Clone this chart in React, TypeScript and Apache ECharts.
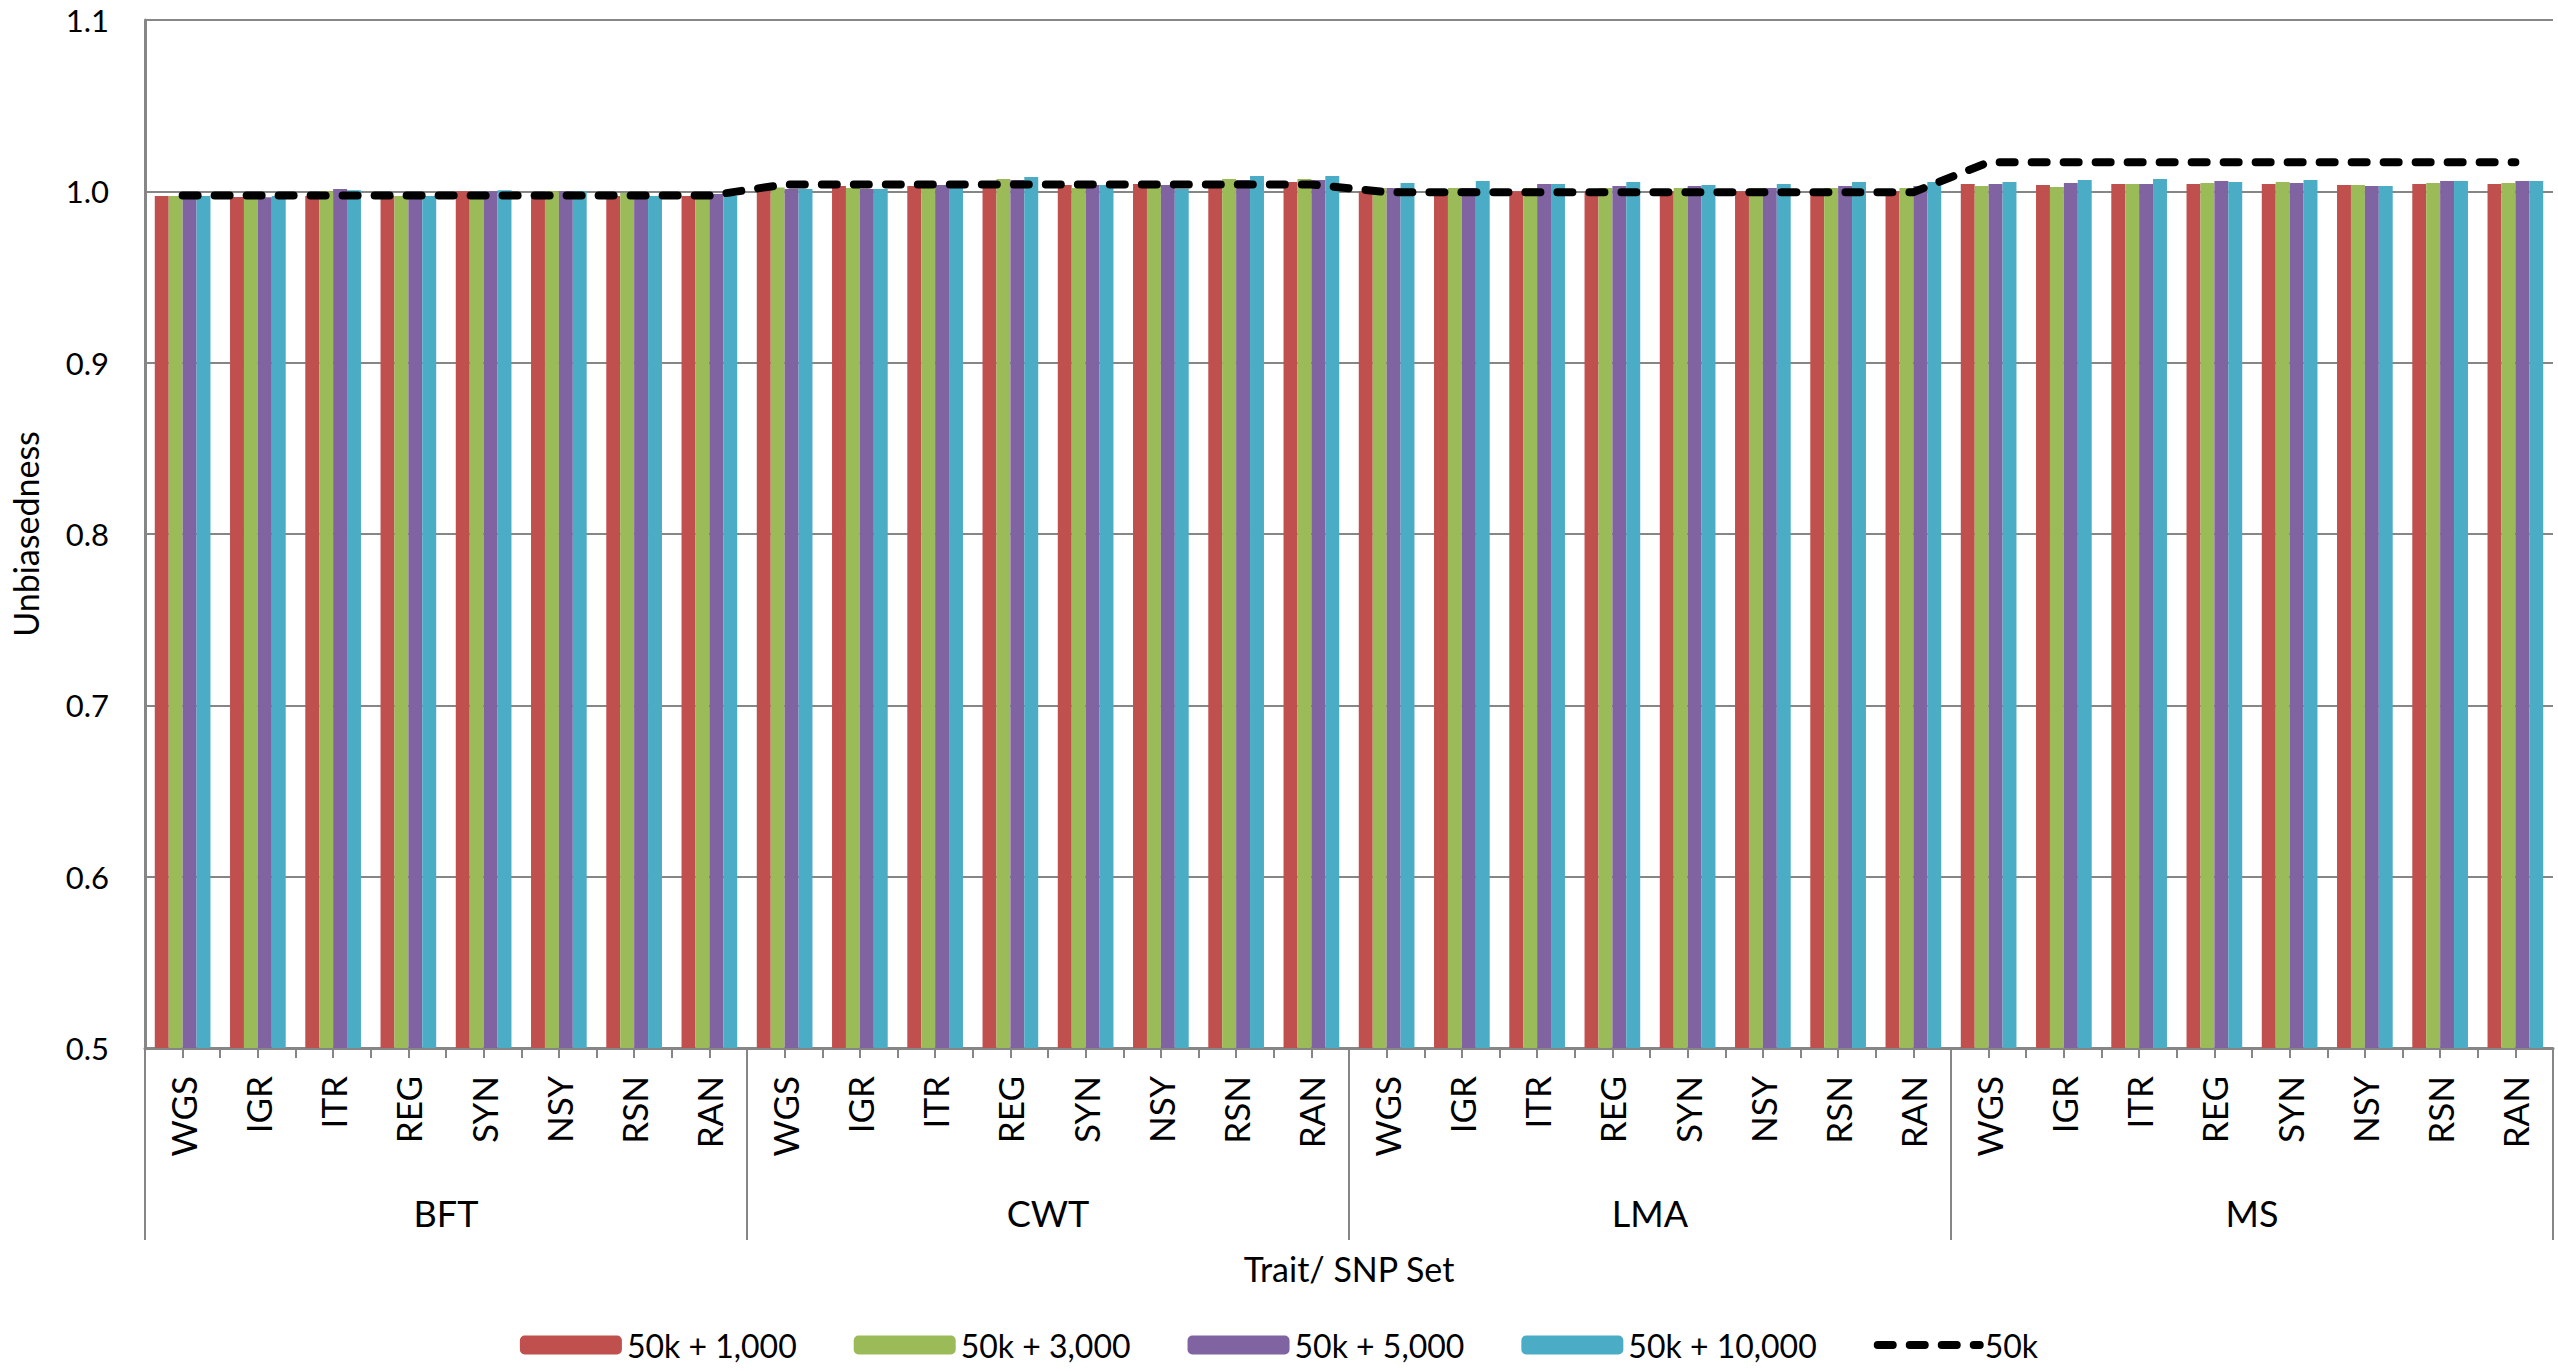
import React, { useEffect, useRef } from "react";
import * as echarts from "echarts";

const traits = ["BFT", "CWT", "LMA", "MS"];
const snpSets = ["WGS", "IGR", "ITR", "REG", "SYN", "NSY", "RSN", "RAN"];
const categories = traits.flatMap(() => snpSets);

const seriesNames = ["50k + 1,000", "50k + 3,000", "50k + 5,000", "50k + 10,000", "50k"];
const colors = ["#C0504D", "#9BBB59", "#8064A2", "#4BACC6"];

// order per trait: WGS, IGR, ITR, REG, SYN, NSY, RSN, RAN
const k1000 = [
  0.9973, 0.9967, 0.9973, 0.9973, 1.0, 0.9973, 0.9973, 0.9973,
  1.001, 1.0031, 1.0031, 1.002, 1.0037, 1.0043, 1.002, 1.0054,
  1.0, 1.0, 1.0, 1.0, 1.0, 1.0, 1.0, 1.0,
  1.0043, 1.0037, 1.0043, 1.0043, 1.0043, 1.0037, 1.0043, 1.0043,
];
const k3000 = [
  0.9973, 0.9972, 1.0, 0.9973, 0.9973, 1.0, 0.999, 0.9973,
  1.0023, 1.0019, 1.002, 1.0072, 1.002, 1.0037, 1.0072, 1.0072,
  1.0019, 1.0019, 1.0019, 1.0019, 1.0019, 1.0019, 1.0019, 1.0019,
  1.0031, 1.0025, 1.0043, 1.0048, 1.0054, 1.0037, 1.0048, 1.0048,
];
const k5000 = [
  0.9973, 0.9965, 1.0014, 0.9973, 1.0, 1.0, 0.9973, 0.9985,
  1.0014, 1.0014, 1.0037, 1.0066, 1.0037, 1.0037, 1.0066, 1.0066,
  1.0019, 1.0019, 1.0043, 1.0031, 1.0031, 1.0019, 1.0031, 1.0031,
  1.0043, 1.0048, 1.0043, 1.006, 1.0048, 1.0031, 1.006, 1.006,
];
const k10000 = [
  0.9973, 0.9973, 1.0006, 0.9973, 1.0006, 1.0, 0.9973, 0.9973,
  1.0014, 1.0014, 1.002, 1.0083, 1.0037, 1.0014, 1.0089, 1.0089,
  1.0048, 1.006, 1.0043, 1.0054, 1.0037, 1.0043, 1.0054, 1.0054,
  1.0054, 1.0066, 1.0072, 1.0054, 1.0066, 1.0031, 1.006, 1.006,
];
const base50k = [
  0.9975, 0.9975, 0.9975, 0.9975, 0.9975, 0.9975, 0.9975, 0.9975,
  1.004, 1.004, 1.004, 1.004, 1.004, 1.004, 1.004, 1.004,
  0.9995, 0.9995, 0.9995, 0.9995, 0.9995, 0.9995, 0.9995, 0.9995,
  1.017, 1.017, 1.017, 1.017, 1.017, 1.017, 1.017, 1.017,
];
const barData = [k1000, k3000, k5000, k10000];

const FONT = "Lato";
const GRAY = "#868686";
const dashStyle = { color: "#000", width: 8, type: [15, 17], cap: "round" };

export default function App() {
  const ref = useRef<HTMLDivElement>(null);
  useEffect(() => {
    document.body.style.margin = "0";
    document.body.style.overflow = "hidden";
    if (!ref.current) return;
    const chart = echarts.init(ref.current, undefined, { renderer: "svg" });
    const bars = barData.map((d, i) => ({
      name: seriesNames[i],
      type: "bar",
      xAxisIndex: 0,
      yAxisIndex: 0,
      data: d,
      barGap: "0%",
      barCategoryGap: "26%",
      itemStyle: { color: colors[i] },
    }));
    chart.setOption({
      animation: false,
      backgroundColor: "#ffffff",
      textStyle: { fontFamily: FONT },
      grid: { left: 138, right: 5, top: 20, bottom: 323, containLabel: false },
      legend: {
        data: [
          ...seriesNames.slice(0, 4),
          { name: seriesNames[4], itemStyle: { opacity: 0 }, lineStyle: dashStyle },
        ],
        left: "center",
        top: 1324,
        itemWidth: 102,
        itemHeight: 19,
        itemGap: 57,
        textStyle: { fontFamily: FONT, fontSize: 32, color: "#000" },
      },
      xAxis: [
        {
          type: "category",
          data: categories,
          position: "bottom",
          axisLine: { show: true, lineStyle: { color: GRAY, width: 3 } },
          axisTick: { show: true, length: 10, interval: 0, lineStyle: { color: GRAY, width: 2 } },
          axisLabel: {
            interval: 0,
            rotate: 90,
            margin: 28,
            fontFamily: FONT,
            fontSize: 35,
            color: "#000",
          },
          splitLine: { show: false },
        },
        {
          type: "category",
          data: categories,
          position: "bottom",
          axisLine: { show: false },
          axisTick: { show: true, length: 10, interval: 0, alignWithLabel: true, lineStyle: { color: GRAY, width: 2 } },
          axisLabel: { show: false },
          splitLine: { show: false },
        },
        {
          type: "category",
          data: traits,
          position: "bottom",
          axisLine: { show: false },
          axisTick: { show: true, length: 192, interval: 0, lineStyle: { color: GRAY, width: 2 } },
          axisLabel: {
            interval: 0,
            margin: 147,
            fontFamily: FONT,
            fontSize: 36,
            color: "#000",
          },
          name: "Trait/ SNP Set",
          nameLocation: "middle",
          nameGap: 203,
          nameTextStyle: { fontFamily: FONT, fontSize: 34, color: "#000" },
          splitLine: { show: false },
        },
      ],
      yAxis: {
        type: "value",
        min: 0.5,
        max: 1.1,
        interval: 0.1,
        name: "Unbiasedness",
        nameLocation: "middle",
        nameRotate: 90,
        nameGap: 103,
        nameTextStyle: { fontFamily: FONT, fontSize: 34, color: "#000" },
        axisLine: { show: true, lineStyle: { color: GRAY, width: 3 } },
        axisTick: { show: false },
        axisLabel: {
          margin: 36,
          fontFamily: FONT,
          fontSize: 31,
          color: "#000",
          formatter: (v: number) => v.toFixed(1),
        },
        splitLine: { show: true, lineStyle: { color: GRAY, width: 2 } },
      },
      series: [
        ...bars,
        {
          name: seriesNames[4],
          type: "line",
          xAxisIndex: 0,
          yAxisIndex: 0,
          data: base50k,
          symbol: "none",
          z: 10,
          itemStyle: { color: "#000" },
          lineStyle: dashStyle,
        },
      ],
    });
    return () => chart.dispose();
  }, []);
  return <div ref={ref} style={{ width: 2558, height: 1371 }} />;
}
